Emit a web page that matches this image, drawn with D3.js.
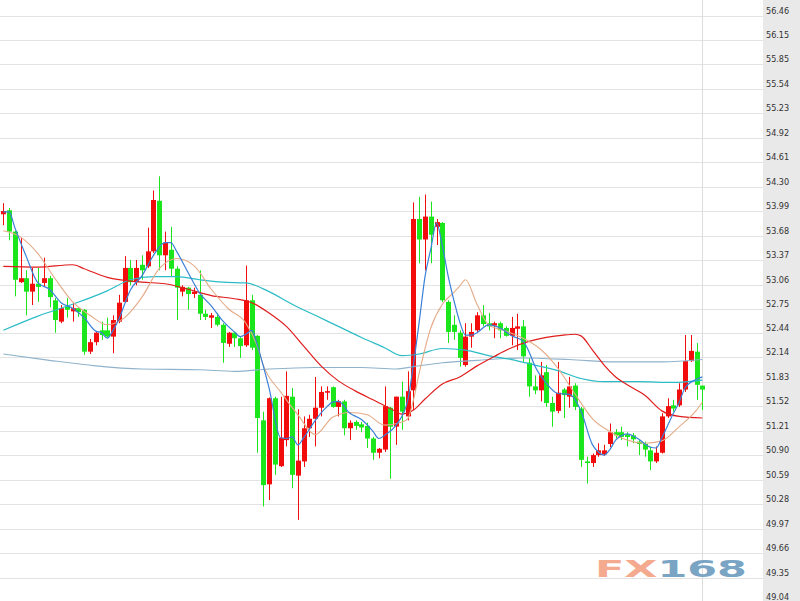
<!DOCTYPE html>
<html><head><meta charset="utf-8">
<script src="https://cdn.jsdelivr.net/npm/d3@7/dist/d3.min.js"></script>
<style>html,body{margin:0;padding:0;background:#fff;overflow:hidden}</style>
</head><body><svg id="c" width="800" height="601"></svg>
<script>
const opens=[53.95,54.00,53.73,53.09,53.14,52.97,53.07,53.08,53.14,52.86,52.59,52.78,52.72,52.76,52.74,52.21,52.33,52.48,52.48,52.40,52.59,52.84,53.27,53.09,53.31,53.29,53.48,54.12,53.43,53.50,53.26,52.97,53.02,52.94,52.93,52.69,52.64,52.65,52.55,52.31,52.45,52.38,52.29,52.86,52.41,51.34,50.53,51.62,50.76,51.09,51.64,50.64,50.82,51.24,51.36,51.50,51.69,51.76,51.51,51.58,51.24,51.32,51.29,51.27,51.11,50.93,50.97,51.50,51.26,51.64,51.39,51.72,53.89,53.63,53.92,53.79,53.84,52.84,52.55,52.45,52.04,52.40,52.48,52.67,52.57,52.54,52.57,52.51,52.41,52.50,52.53,52.07,51.77,51.72,51.95,51.56,51.46,51.73,51.64,51.78,51.49,50.82,50.80,50.90,50.91,51.04,51.19,51.19,51.16,51.15,51.07,51.04,50.96,50.82,50.93,51.39,51.53,51.53,51.73,52.09,52.21,51.78];
const highs=[54.09,54.03,53.74,53.65,53.24,53.27,53.27,53.40,53.17,52.89,52.80,52.89,52.83,52.77,52.75,52.37,52.46,52.59,52.64,52.67,52.93,53.42,53.37,53.37,53.43,53.78,54.25,54.43,53.73,53.79,53.29,53.05,53.03,53.02,53.24,52.74,52.70,52.70,52.57,52.46,52.46,52.40,53.30,52.93,52.42,51.45,51.63,51.64,51.64,51.96,51.75,51.48,51.39,51.41,51.89,51.77,51.77,51.77,51.60,51.60,51.34,51.34,51.32,51.31,51.13,50.99,51.77,51.51,51.64,51.83,51.96,54.10,54.17,54.20,54.11,53.89,53.85,52.86,52.67,52.48,52.57,52.57,52.71,52.80,52.70,52.59,52.59,52.53,52.65,52.69,52.61,52.13,51.91,52.08,52.04,51.64,52.08,51.75,51.89,51.81,51.51,50.88,50.92,51.05,51.03,51.30,51.23,51.26,51.19,51.18,51.09,51.07,51.01,51.01,51.43,51.62,51.60,51.81,52.42,52.42,52.32,51.78];
const lows=[53.81,53.62,52.91,53.08,52.67,52.80,52.84,53.03,52.77,52.45,52.57,52.64,52.59,52.65,52.17,52.18,52.29,52.36,52.39,52.19,52.57,52.83,53.05,53.05,53.12,53.27,53.46,53.24,53.24,53.16,52.61,52.91,52.74,52.89,52.61,52.61,52.51,52.53,52.07,52.27,52.27,52.13,52.27,52.23,50.93,50.25,50.33,50.65,50.75,51.01,50.48,50.08,50.75,51.13,51.01,51.39,51.60,51.50,51.39,51.15,51.09,51.22,51.19,50.99,50.84,50.86,50.94,50.60,51.03,51.22,51.34,51.47,53.33,53.24,53.33,53.56,52.84,52.32,52.36,52.02,52.02,52.26,52.46,52.53,52.48,52.38,52.38,52.40,52.29,52.23,52.08,51.64,51.67,51.58,51.51,51.26,51.43,51.37,51.50,51.47,50.75,50.54,50.75,50.88,50.89,51.00,51.11,51.09,51.01,51.05,50.90,50.88,50.71,50.80,50.92,51.37,51.45,51.51,51.70,52.08,51.60,51.47];
const closes=[53.99,53.73,53.12,53.14,52.97,53.07,53.03,53.14,52.90,52.61,52.76,52.74,52.76,52.71,52.21,52.33,52.45,52.42,52.40,52.61,52.83,53.27,53.09,53.27,53.24,53.48,54.13,53.43,53.59,53.26,53.02,53.03,52.94,52.97,52.69,52.65,52.67,52.55,52.32,52.45,52.38,52.28,52.86,52.26,51.37,50.52,51.62,50.78,51.12,51.65,50.65,50.83,51.24,51.36,51.50,51.70,51.71,51.51,51.58,51.24,51.31,51.27,51.25,51.11,50.93,50.98,51.52,51.26,51.64,51.45,51.71,53.89,53.63,53.92,53.69,53.85,52.86,52.46,52.46,52.13,52.40,52.46,52.67,52.56,52.53,52.57,52.48,52.41,52.51,52.53,52.15,51.77,51.72,51.91,51.56,51.45,51.69,51.66,51.77,51.51,50.84,50.80,50.90,50.96,50.96,51.19,51.15,51.13,51.13,51.10,51.04,50.97,50.82,50.93,51.39,51.52,51.49,51.73,52.09,52.22,51.79,51.73];

const yTickLabels=["56.46","56.15","55.85","55.54","55.23","54.92","54.61","54.30","53.99","53.68","53.37","53.06","52.75","52.44","52.14","51.83","51.52","51.21","50.90","50.59","50.28","49.97","49.66","49.35","49.04"];

const ma5Idx=[0,1,2,4,6,8,10,12,14,16,17,18,19,20,21,22,24,26,28,29,30,32,34,36,38,40,41,42,43,44,45,46,48,49,50,51,52,54,56,57,58,60,62,64,65,66,68,70,71,72,73,74,75,76,77,78,79,80,81,82,84,86,88,90,91,92,94,96,98,100,102,103,104,105,106,108,110,112,113,114,116,117,118,120,121];
const ma5=[53.98,53.98,53.78,53.41,53.08,53.00,52.83,52.76,52.64,52.47,52.45,52.38,52.48,52.62,52.81,52.99,53.17,53.43,53.59,53.59,53.48,53.21,52.95,52.79,52.60,52.46,52.40,52.43,52.48,52.29,52.03,51.75,51.12,51.11,51.13,51.03,51.12,51.34,51.51,51.57,51.58,51.43,51.35,51.20,51.11,51.15,51.28,51.59,52.05,52.59,53.16,53.51,53.84,53.55,53.17,52.86,52.59,52.42,52.42,52.45,52.55,52.51,52.41,52.34,52.21,52.03,51.81,51.68,51.67,51.46,51.03,50.94,50.90,50.97,51.09,51.17,51.10,51.00,50.99,51.12,51.43,51.57,51.75,51.86,51.89];

const ma10Idx=[0,3,6,9,12,15,18,21,24,27,30,33,36,39,42,44,45,48,51,54,57,60,63,66,69,70,71,72,74,76,78,79,80,82,84,87,90,93,96,99,102,105,108,111,114,117,120,121];
const ma10=[53.74,53.66,53.45,53.13,52.84,52.67,52.55,52.64,52.90,53.26,53.39,53.30,53.00,52.75,52.57,52.27,52.04,51.70,51.41,51.16,51.38,51.44,51.41,51.28,51.32,51.36,51.60,51.94,52.51,52.81,52.96,53.04,53.12,52.81,52.55,52.47,52.38,52.24,52.00,51.67,51.36,51.20,51.09,51.05,51.08,51.26,51.47,51.57];

const ma20Idx=[0,6,12,14,18,24,28,32,36,40,43,46,49,52,55,58,61,64,67,69,71,73,76,79,82,85,88,91,94,97,99,100,102,104,106,108,111,114,117,121];
const ma20=[53.29,53.28,53.31,53.26,53.15,53.09,53.07,53.00,52.92,52.88,52.83,52.70,52.53,52.28,52.03,51.84,51.71,51.60,51.49,51.42,51.47,51.61,51.80,51.89,52.03,52.15,52.26,52.34,52.39,52.42,52.43,52.41,52.23,52.04,51.89,51.79,51.66,51.46,51.39,51.37];

const ma60Idx=[0,6,12,18,22,26,30,34,38,42,46,50,54,58,62,66,69,72,76,80,84,88,92,96,100,104,110,116,121];
const ma60=[52.48,52.66,52.81,52.98,53.12,53.16,53.16,53.12,53.09,53.08,52.97,52.81,52.67,52.53,52.39,52.26,52.16,52.18,52.25,52.23,52.16,52.11,52.04,51.97,51.87,51.83,51.83,51.82,51.85];

const ma120Idx=[0,8,16,24,34,40,46,54,62,68,71,76,82,90,98,106,114,121];
const ma120=[52.18,52.10,52.03,51.99,51.98,51.96,51.99,52.01,52.01,51.99,52.02,52.07,52.10,52.13,52.11,52.08,52.08,52.11];

const svg=d3.select("#c");
const W=800,H=601,plotRight=763;
const n=opens.length;
const x=d3.scaleLinear().domain([0,n-1]).range([3.3,702.3]);
const y=d3.scaleLinear().domain([49.04,56.46]).range([602,16]);
const yTicks=yTickLabels.map(Number);

svg.append("rect").attr("x",0).attr("y",0).attr("width",W).attr("height",H).attr("fill","#fff");
svg.append("rect").attr("x",plotRight).attr("y",0).attr("width",W-plotRight).attr("height",H).attr("fill","#e9e9e9");

// grid via axis
const grid=svg.append("g").attr("class","grid")
  .call(d3.axisRight(y).tickValues(yTicks).tickSize(plotRight).tickFormat(""));
grid.select(".domain").remove();
grid.selectAll("line").attr("stroke","#e3e3e3").attr("shape-rendering","crispEdges");

// vertical marker line
svg.append("line").attr("x1",Math.round(x(n-1))+0.5).attr("x2",Math.round(x(n-1))+0.5)
  .attr("y1",0).attr("y2",H).attr("stroke","#dcdcdc");

// axis labels
const ax=svg.append("g").attr("transform",`translate(${plotRight},0)`)
  .call(d3.axisRight(y).tickValues(yTicks).tickSize(0).tickPadding(3)
    .tickFormat((d,i)=>yTickLabels[i]));
ax.select(".domain").remove();
ax.selectAll("text").attr("dy","-2.5px").attr("fill","#333")
  .style("font-family","'DejaVu Sans Condensed','DejaVu Sans',sans-serif").style("font-size","9px");

// watermark
const wm=svg.append("text").attr("x",595).attr("y",577)
  .attr("textLength",152).attr("lengthAdjust","spacingAndGlyphs")
  .style("font-family","'DejaVu Sans',sans-serif").style("font-weight","bold").style("font-size","23px");
wm.append("tspan").attr("fill","#f4aa8e").text("FX");
wm.append("tspan").attr("fill","#7aa4c4").text("168");

// candles
const up="#f20c0c", down="#1be61b";
const cg=svg.append("g");
for(let i=0;i<n;i++){
  const o=opens[i],c=closes[i],h=highs[i],l=lows[i];
  const col=c>=o?up:down;
  const cx=Math.round(x(i));
  cg.append("line").attr("x1",cx+0.5).attr("x2",cx+0.5).attr("y1",y(h)).attr("y2",y(l)).attr("stroke",col).attr("stroke-width",1);
  const top=y(Math.max(o,c)), bot=y(Math.min(o,c));
  cg.append("rect").attr("x",cx-2).attr("width",5).attr("y",top).attr("height",Math.max(1.2,bot-top)).attr("fill",col);
}

function drawMA(idx,vals,color,w){
  const pts=idx.map((d,i)=>[d,vals[i]]);
  svg.append("path").datum(pts)
    .attr("d",d3.line().x(d=>x(d[0])).y(d=>y(d[1])).curve(d3.curveMonotoneX))
    .attr("fill","none").attr("stroke",color).attr("stroke-width",w);
}
drawMA(ma120Idx,ma120,"#8fb3cc",1.1);
drawMA(ma60Idx,ma60,"#2cbcc6",1.2);
drawMA(ma20Idx,ma20,"#e01c1c",1.2);
drawMA(ma10Idx,ma10,"#e4ab88",1.1);
drawMA(ma5Idx,ma5,"#3a80d8",1.2);
</script></body></html>
